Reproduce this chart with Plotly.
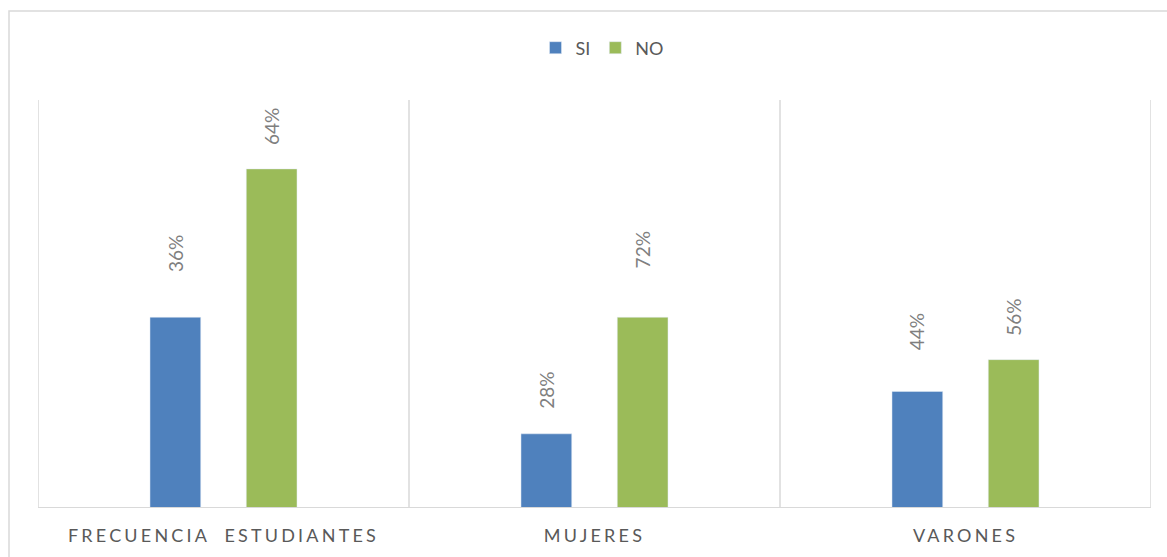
import plotly.graph_objects as go

# ---- data ----
categories = ["FRECUENCIA ESTUDIANTES", "MUJERES", "VARONES"]
si_counts = [18, 7, 11]
no_counts = [32, 18, 14]
si_labels = ["36%", "28%", "44%"]
no_labels = ["64%", "72%", "56%"]

# ---- style ----
BLUE = "#4F81BD"
GREEN = "#9BBB59"
GRID = "#D9D9D9"
TXT = "#595959"
LBL = "#7F7F7F"
FONT = "Lato"

W, H = 1167, 557
ML, MR, MT, MB = 38, 16, 100, 49
BARGAP, GROUPGAP = 0.481, 0.473
YMAX = 38.5
si_gap = [43, 23, 39]   # label distance above bar (px)
no_gap = [22, 47, 22]

cat_px = (W - ML - MR) / len(categories)
off_px = (1 - BARGAP) / 4 * cat_px

fig = go.Figure()
fig.add_trace(go.Bar(name="SI", x=categories, y=si_counts, marker_color=BLUE))
fig.add_trace(go.Bar(name="NO", x=categories, y=no_counts, marker_color=GREEN))

annotations = []
for i, c in enumerate(categories):
    annotations.append(dict(x=c, y=si_counts[i], text=si_labels[i], showarrow=False,
                            textangle=-90, xanchor="center", yanchor="bottom",
                            xshift=-off_px, yshift=si_gap[i],
                            font=dict(family=FONT, size=19, color=LBL)))
    annotations.append(dict(x=c, y=no_counts[i], text=no_labels[i], showarrow=False,
                            textangle=-90, xanchor="center", yanchor="bottom",
                            xshift=off_px, yshift=no_gap[i],
                            font=dict(family=FONT, size=19, color=LBL)))

shapes = []
# category separators
for k in range(len(categories) + 1):
    shapes.append(dict(type="line", xref="x", yref="paper", x0=k - 0.5, x1=k - 0.5,
                       y0=0, y1=1, line=dict(color=GRID, width=1.5), layer="below"))
# baseline
shapes.append(dict(type="line", xref="paper", yref="y", x0=0, x1=1, y0=0, y1=0,
                   line=dict(color=GRID, width=2), layer="above"))
# outer chart border
pw = W - ML - MR
ph = H - MT - MB
shapes.append(dict(type="rect", xref="paper", yref="paper",
                   x0=(9 - ML) / pw, x1=(W + 20 - ML) / pw,
                   y0=(H - MB - (H + 20)) / ph, y1=(H - MB - 11) / ph,
                   line=dict(color=GRID, width=1.5), fillcolor="rgba(0,0,0,0)", layer="below"))

fig.update_layout(
    width=W, height=H,
    margin=dict(l=ML, r=MR, t=MT, b=MB),
    paper_bgcolor="white", plot_bgcolor="white",
    barmode="group", bargap=BARGAP, bargroupgap=GROUPGAP,
    showlegend=True,
    legend=dict(orientation="h", x=(602 - ML) / pw, xanchor="center", y=(H - MB - 48) / ph,
                yanchor="middle", font=dict(family=FONT, size=18, color=TXT),
                itemwidth=30, traceorder="normal"),
    xaxis=dict(showgrid=False, showline=False, ticks="", zeroline=False,
               tickfont=dict(family=FONT, size=18, color=TXT),
               ticklabelstandoff=15, range=[-0.5, 2.5]),
    yaxis=dict(range=[0, YMAX], visible=False, showgrid=False, zeroline=False),
    annotations=annotations,
    shapes=shapes,
)

post = """
document.body.style.margin = '0';
document.body.style.overflow = 'hidden';
var gd = document.getElementById('{plot_id}');
function sp(){
  gd.querySelectorAll('.xtick text').forEach(function(t){
    t.style.letterSpacing = '3.2px';
    t.style.wordSpacing = '7px';
  });
}
sp();
gd.on('plotly_afterplot', sp);
"""

fig.write_html("out.html", post_script=post, config={"displayModeBar": False})
